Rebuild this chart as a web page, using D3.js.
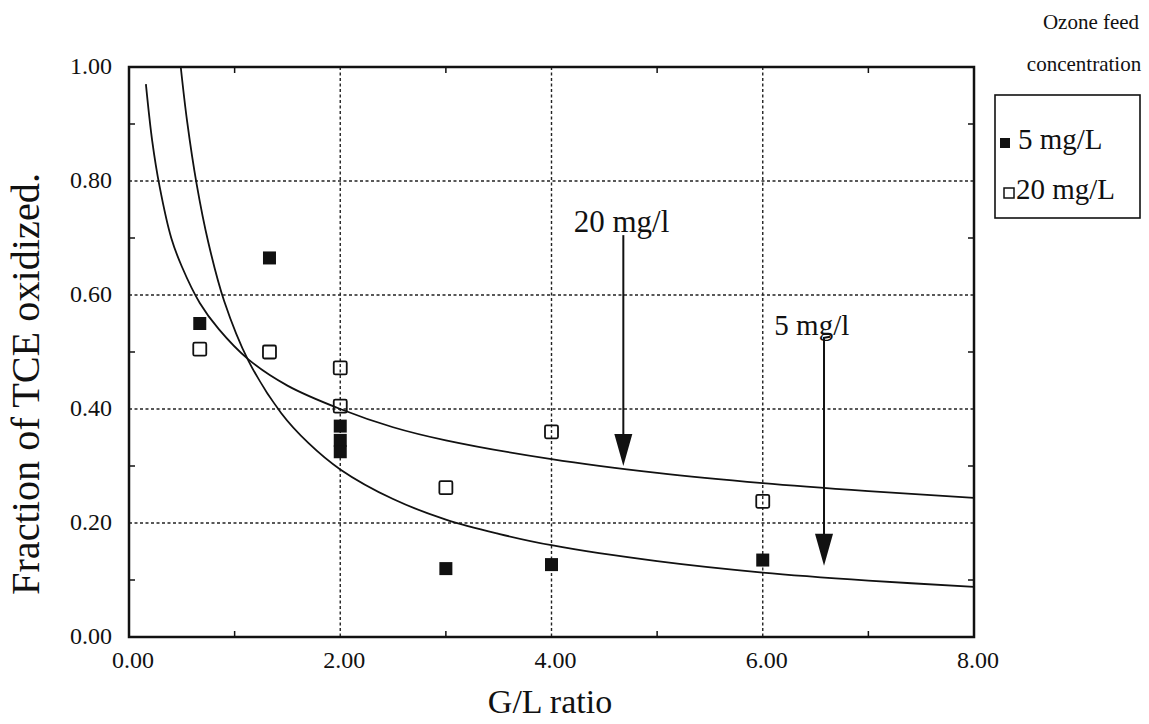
<!DOCTYPE html>
<html>
<head>
<meta charset="utf-8">
<script src="https://cdn.jsdelivr.net/npm/d3@7"></script>
<style>
  body { margin: 0; background: #fff; }
  svg text { font-family: "Times New Roman", "Liberation Serif", serif; fill: #111; }
</style>
</head>
<body>
<svg id="chart" width="1149" height="724"></svg>
<script>
// ------- data -------
const fiveX = [0.67, 1.33, 2.0, 2.0, 2.0, 3.0, 4.0, 6.0];
const fiveY = [0.55, 0.665, 0.37, 0.345, 0.325, 0.12, 0.127, 0.135];
const twentyX = [0.67, 1.33, 2.0, 2.0, 3.0, 4.0, 6.0];
const twentyY = [0.505, 0.50, 0.472, 0.405, 0.262, 0.36, 0.238];

// fitted curves as drawn in the figure
const fit20X = [0.16, 0.22, 0.29, 0.4, 0.5, 0.67, 0.85, 1.13, 1.5, 2.0, 2.5, 3.0, 4.0, 5.0, 6.0, 7.0, 8.0];
const fit20Y = [0.97, 0.87, 0.79, 0.70, 0.65, 0.586, 0.54, 0.487, 0.441, 0.40, 0.368, 0.345, 0.312, 0.288, 0.27, 0.256, 0.244];
const fit5X = [0.49, 0.55, 0.64, 0.75, 0.9, 1.13, 1.44, 1.7, 2.0, 2.5, 3.0, 3.5, 4.0, 5.0, 6.0, 7.0, 8.0];
const fit5Y = [1.0, 0.905, 0.795, 0.693, 0.59, 0.485, 0.393, 0.34, 0.294, 0.242, 0.206, 0.181, 0.161, 0.133, 0.113, 0.099, 0.088];

const xTicks = [0, 2, 4, 6, 8];
const yTicks = [0, 0.2, 0.4, 0.6, 0.8, 1.0];
const xMinor = [1, 3, 5, 7];
const yMinor = [0.1, 0.3, 0.5, 0.7, 0.9];

// arrow annotations: label, label position, arrow x and y span (data units)
const noteLabels = ["20 mg/l", "5 mg/l"];
const noteTextX = [4.21, 6.11];
const noteTextY = [0.71, 0.53];
const arrowX = [4.68, 6.58];
const arrowTop = [0.705, 0.525];
const arrowTip = [0.30, 0.125];

const legendLabels = ["5 mg/L", "20 mg/L"];

// ------- chart -------
const svg = d3.select("#chart");
const pLeft = 129, pRight = 974, pTop = 67, pBottom = 637;

const x = d3.scaleLinear().domain([0, 8]).range([pLeft, pRight]);
const y = d3.scaleLinear().domain([0, 1]).range([pBottom, pTop]);

// grid
const grid = svg.append("g")
  .attr("stroke", "#222").attr("stroke-width", 1.4).attr("stroke-dasharray", "3,2.5");
grid.selectAll("line.gx").data(xTicks.slice(1, -1)).join("line")
  .attr("x1", d => x(d)).attr("x2", d => x(d)).attr("y1", pTop).attr("y2", pBottom);
grid.selectAll("line.gy").data(yTicks.slice(1, -1)).join("line")
  .attr("x1", pLeft).attr("x2", pRight).attr("y1", d => y(d)).attr("y2", d => y(d));

// minor ticks pointing inward on all four sides
const ticks = svg.append("g").attr("stroke", "#111").attr("stroke-width", 1.5);
xMinor.forEach(v => {
  ticks.append("line").attr("x1", x(v)).attr("x2", x(v)).attr("y1", pBottom).attr("y2", pBottom - 6);
  ticks.append("line").attr("x1", x(v)).attr("x2", x(v)).attr("y1", pTop).attr("y2", pTop + 6);
});
yMinor.forEach(v => {
  ticks.append("line").attr("x1", pLeft).attr("x2", pLeft + 6).attr("y1", y(v)).attr("y2", y(v));
  ticks.append("line").attr("x1", pRight).attr("x2", pRight - 6).attr("y1", y(v)).attr("y2", y(v));
});

// frame
svg.append("rect")
  .attr("x", pLeft).attr("y", pTop).attr("width", pRight - pLeft).attr("height", pBottom - pTop)
  .attr("fill", "none").attr("stroke", "#111").attr("stroke-width", 2.5);

// tick labels
svg.selectAll("text.ytick").data(yTicks).join("text")
  .attr("class", "ytick")
  .attr("x", 112).attr("y", d => y(d) + 7)
  .attr("text-anchor", "end").attr("font-size", 24)
  .text(d => d3.format(".2f")(d));

svg.selectAll("text.xtick").data(xTicks).join("text")
  .attr("class", "xtick")
  .attr("x", d => x(d) + 4).attr("y", pBottom + 31)
  .attr("text-anchor", "middle").attr("font-size", 24)
  .text(d => d3.format(".2f")(d));

// axis titles
svg.append("text")
  .attr("transform", "translate(39,384) rotate(-90)")
  .attr("text-anchor", "middle").attr("font-size", 39)
  .attr("textLength", 422).attr("lengthAdjust", "spacingAndGlyphs")
  .text("Fraction of TCE oxidized.");

svg.append("text")
  .attr("x", 550).attr("y", 713)
  .attr("text-anchor", "middle").attr("font-size", 34)
  .text("G/L ratio");

// fitted curves
const line = d3.line().x(d => x(d[0])).y(d => y(d[1])).curve(d3.curveCatmullRom.alpha(0.5));
[[fit20X, fit20Y], [fit5X, fit5Y]].forEach(([xs, ys]) => {
  svg.append("path")
    .datum(xs.map((v, i) => [v, ys[i]]))
    .attr("d", line)
    .attr("fill", "none").attr("stroke", "#111").attr("stroke-width", 1.8);
});

// points
const sz = 13;
svg.selectAll("rect.five").data(fiveX.map((v, i) => [v, fiveY[i]])).join("rect")
  .attr("class", "five")
  .attr("x", d => x(d[0]) - sz / 2).attr("y", d => y(d[1]) - sz / 2)
  .attr("width", sz).attr("height", sz).attr("fill", "#111");

svg.selectAll("rect.twenty").data(twentyX.map((v, i) => [v, twentyY[i]])).join("rect")
  .attr("class", "twenty")
  .attr("x", d => x(d[0]) - sz / 2).attr("y", d => y(d[1]) - sz / 2)
  .attr("width", sz).attr("height", sz).attr("rx", 1.5)
  .attr("fill", "none").attr("stroke", "#111").attr("stroke-width", 1.8);

// arrow annotations
noteLabels.forEach((lab, i) => {
  svg.append("text")
    .attr("x", x(noteTextX[i])).attr("y", y(noteTextY[i]))
    .attr("font-size", i === 0 ? 31 : 29)
    .text(lab);
  const ax = x(arrowX[i]);
  const y0 = y(arrowTop[i]), y1 = y(arrowTip[i]);
  const headLen = 32, headW = 9;
  let d = "M" + ax + "," + y0 + "L" + ax + "," + (y1 - headLen + 2);
  if (i === 1) d = "M" + (ax + 6) + "," + (y0 - 1) + "L" + ax + "," + y0 + "L" + ax + "," + (y1 - headLen + 2);
  svg.append("path").attr("d", d).attr("fill", "none").attr("stroke", "#111").attr("stroke-width", 2);
  svg.append("path")
    .attr("d", "M" + (ax - headW) + "," + (y1 - headLen) + "L" + (ax + headW) + "," + (y1 - headLen) + "L" + ax + "," + y1 + "Z")
    .attr("fill", "#111");
});

// legend
svg.append("text").attr("x", 1091).attr("y", 29).attr("text-anchor", "middle")
  .attr("font-size", 21)
  .text("Ozone feed");
svg.append("text").attr("x", 1084).attr("y", 71).attr("text-anchor", "middle")
  .attr("font-size", 21)
  .text("concentration");

svg.append("rect")
  .attr("x", 995).attr("y", 95).attr("width", 145).attr("height", 123)
  .attr("fill", "none").attr("stroke", "#111").attr("stroke-width", 1.6);

const legY = [143, 193];
svg.append("rect").attr("x", 1000).attr("y", legY[0] - 5).attr("width", 10).attr("height", 10).attr("fill", "#111");
svg.append("rect").attr("x", 1004).attr("y", legY[1] - 5).attr("width", 10).attr("height", 10)
  .attr("fill", "none").attr("stroke", "#111").attr("stroke-width", 1.5);
legendLabels.forEach((lab, i) => {
  svg.append("text")
    .attr("x", i === 0 ? 1018 : 1016).attr("y", legY[i] + 6)
    .attr("font-size", 29)
    .text(lab);
});
</script>
</body>
</html>
